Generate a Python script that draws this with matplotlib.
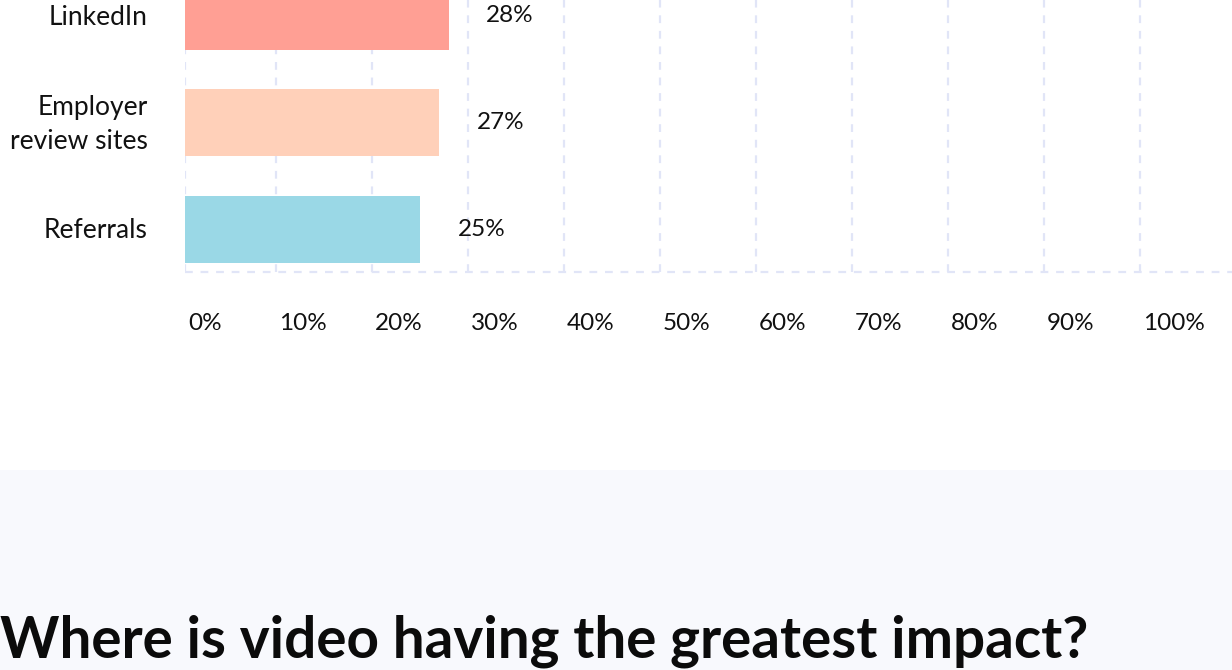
import matplotlib
matplotlib.use('Agg')
import matplotlib.pyplot as plt
from matplotlib.patches import Rectangle

plt.rcParams['font.family'] = ['Lato', 'DejaVu Sans']

channels = ['LinkedIn', 'Employer\nreview sites', 'Referrals']
shares = [28, 27, 25]
colors = ['#ff9f94', '#ffd0b9', '#9ad8e6']
ticks = list(range(0, 101, 10))
heading = 'Where is video having the greatest impact?'

W, H = 1232, 670
fig = plt.figure(figsize=(W / 100, H / 100), dpi=100)
fig.patch.set_facecolor('white')

# lower page band with the next section heading
fig.patches.append(Rectangle((0, 0), 1, (H - 470) / H, transform=fig.transFigure,
                             facecolor='#f8f9fd', edgecolor='none', zorder=0))
fig.text(0, (H - 657) / H, heading, fontsize=40.8, fontweight='bold',
         color='#0b0b0b', ha='left', va='baseline')

# plot area: origin sits a few px left of the visible edge
px_per_pct = 9.6
origin = 180
left, right, top, bottom = 185, W, 0, 272
ax = fig.add_axes([left / W, (H - bottom) / H, (right - left) / W, (bottom - top) / H])
ax.set_facecolor('none')
x0 = (left - origin) / px_per_pct
ax.set_xlim(x0, (right - origin) / px_per_pct)
ax.set_ylim(2.40, -0.15)

grid_kw = dict(color='#e1e5f7', lw=1.6, ls=(0, (3.5, 3.5)), zorder=1)
for x in ticks:
    ax.axvline(max(x, x0), **grid_kw)
ax.axhline(2.40, clip_on=False, **grid_kw)

ypos = range(len(channels))
ax.barh(ypos, shares, height=0.63, color=colors, zorder=2)
for y, v in zip(ypos, shares):
    ax.annotate(f'{v}%', (v, y), xytext=(27, 0), textcoords='offset points',
                ha='left', va='center', fontsize=17.5, color='#111111')

for y, name in zip(ypos, channels):
    ax.annotate(name, (x0, y), xytext=(-27, -1), textcoords='offset points',
                ha='right', va='center', fontsize=19, color='#111111',
                linespacing=1.45, annotation_clip=False)

for x in ticks:
    ax.annotate(f'{x}%', (max(x, x0), 2.40), xytext=(2, -37), textcoords='offset points',
                ha='left', va='center', fontsize=17.5, color='#111111',
                annotation_clip=False)

ax.set_xticks([])
ax.set_yticks([])
for s in ax.spines.values():
    s.set_visible(False)

fig.savefig('out.png', dpi=100)
